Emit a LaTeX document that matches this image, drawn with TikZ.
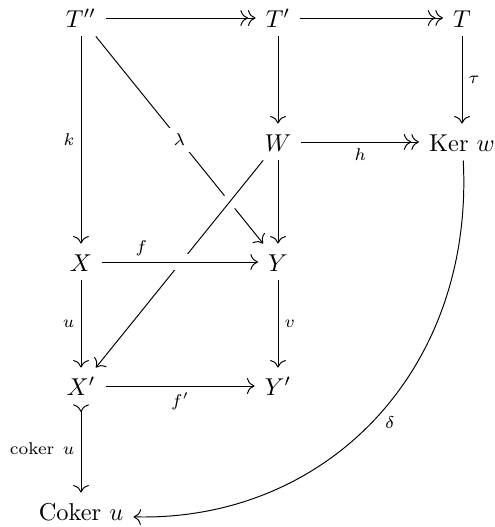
\documentclass[tikz,border=0pt]{standalone}
\usetikzlibrary{arrows.meta}
\begin{document}
\begin{tikzpicture}[x=0.41pt,y=-0.41pt,>={To[scale=1.25]},line width=0.4pt,
  obj/.style={inner xsep=4pt,inner ysep=2.5pt,text height=2ex,text depth=0.25ex},
  lab/.style={font=\scriptsize,inner sep=2.5pt},
  desc/.style={lab,fill=white,anchor=center},
  cross/.style={preaction={draw=white,-,line width=6.4pt,shorten <=5pt,shorten >=5pt}}]
\useasboundingbox (0,0) rectangle (494,527);
\node[obj] (Tpp) at (81,18) {$T''$};
\node[obj] (Tp) at (278,18) {$T'$};
\node[obj] (T) at (462,18) {$T$};
\node[obj] (W) at (278,142) {$W$};
\node[obj] (K) at (462,142) {Ker $w$};
\node[obj] (X) at (81,262) {$X$};
\node[obj] (Y) at (278,262) {$Y$};
\node[obj] (Xp) at (81,386) {$X'$};
\node[obj] (Yp) at (278,386) {$Y'$};
\node[obj] (C) at (81,511) {Coker $u$};
\draw[->>] (Tpp) -- (Tp);
\draw[->>] (Tp) -- (T);
\draw[->] (Tp) -- (W);
\draw[->] (Tpp) -- node[lab,left]{$k$} (X);
\draw[->] (T) -- node[lab,right]{$\tau$} (K);
\draw[->>] (W) -- node[lab,below]{$h$} (K);
\draw[->] (W) -- (Y);
\draw[->] (X) -- node[lab,left]{$u$} (Xp);
\draw[->] (Y) -- node[lab,right]{$v$} (Yp);
\draw[->] (Xp) -- node[lab,below]{$f'$} (Yp);
\draw[>->] (Xp) -- node[lab,left]{coker\enspace$u$} (C);
\draw[->] ([xshift=0.5pt]K.south) .. controls +(11,210) and +(193,5) .. node[lab,pos=0.5,anchor=center,xshift=6.2pt,yshift=-1.2pt]{$\delta$} ([yshift=-2.4pt]C.east);
\draw[->] (Tpp) -- node[desc]{$\lambda$} (Y);
\draw[->,cross] (W) -- (Xp);
\draw[->,cross] (X) -- node[lab,above,pos=0.25]{$f$} (Y);
\end{tikzpicture}
\end{document}
